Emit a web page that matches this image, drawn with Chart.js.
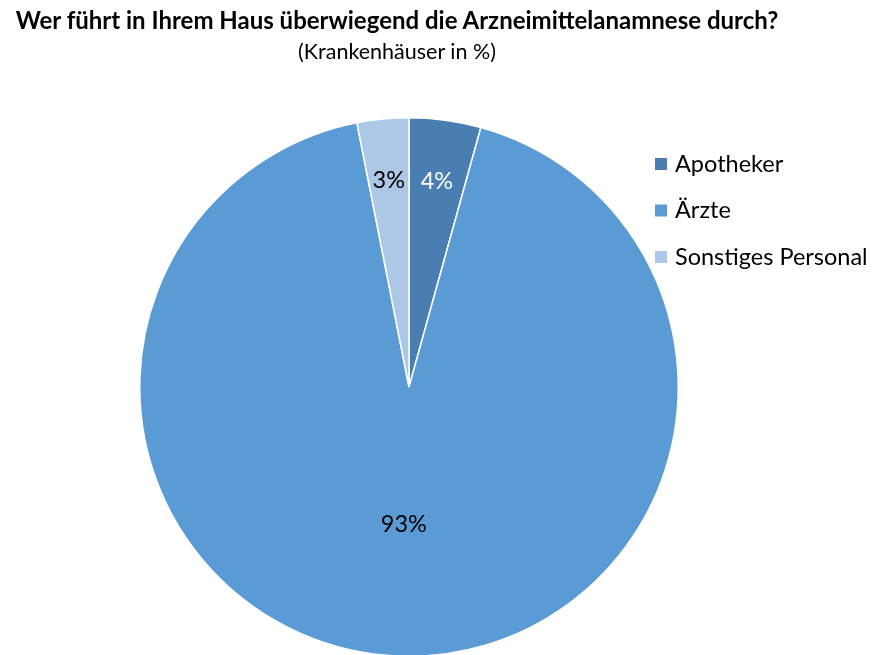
<!DOCTYPE html>
<html>
<head>
<meta charset="utf-8">
<script src="https://cdn.jsdelivr.net/npm/chart.js@4/dist/chart.umd.min.js"></script>
<style>
    html, body { margin: 0; padding: 0; background: #fff; overflow: hidden; }
    #wrap { position: relative; width: 872px; height: 655px; overflow: hidden; }
    #chart { position: absolute; left: 0; top: 0; }
    .title { position: absolute; left: 0; width: 794px; text-align: center; font-family: Lato, sans-serif; color: #000; white-space: nowrap; line-height: 1; }
    #t1 { top: 8px; font-size: 24px; font-weight: bold; }
    #t2 { top: 41px; font-size: 21.5px; }
</style>
</head>
<body>
<div id="wrap">
    <canvas id="chart" width="872" height="700"></canvas>
    <div class="title" id="t1">Wer führt in Ihrem Haus überwiegend die Arzneimittelanamnese durch?</div>
    <div class="title" id="t2">(Krankenhäuser in %)</div>
</div>
<script>
// Wer führt die Arzneimittelanamnese durch? (Krankenhäuser in %)
const categories = ['Apotheker', 'Ärzte', 'Sonstiges Personal'];
const shares = [4.3, 92.6, 3.1];
const sliceColors = ['#4a7db1', '#5b9bd5', '#adc7e7'];
const labelColors = ['#ffffff', '#000000', '#000000'];

const FONT = 'Lato, sans-serif';

// percent labels inside the slices (small slices sit further out, like Excel's best fit)
const sliceLabels = {
    id: 'sliceLabels',
    afterDatasetsDraw(chart) {
        const ctx = chart.ctx;
        const meta = chart.getDatasetMeta(0);
        ctx.save();
        ctx.font = '23.5px ' + FONT;
        ctx.textAlign = 'center';
        ctx.textBaseline = 'middle';
        meta.data.forEach((arc, i) => {
            const p = arc.getProps(['x', 'y', 'startAngle', 'endAngle', 'outerRadius']);
            const mid = (p.startAngle + p.endAngle) / 2;
            const f = shares[i] < 10 ? 0.77 : 0.51;
            const x = p.x + Math.cos(mid) * p.outerRadius * f;
            const y = p.y + Math.sin(mid) * p.outerRadius * f;
            ctx.fillStyle = labelColors[i];
            ctx.fillText(Math.round(shares[i]) + '%', x, y);
        });
        ctx.restore();
    }
};

// legend on the right, drawn from the chart's own labels and colours
const sideLegend = {
    id: 'sideLegend',
    afterDraw(chart) {
        const ctx = chart.ctx;
        const ds = chart.data.datasets[0];
        ctx.save();
        ctx.font = '23.5px ' + FONT;
        ctx.textBaseline = 'middle';
        chart.data.labels.forEach((label, i) => {
            const y = 164 + i * 46.5;
            ctx.fillStyle = ds.backgroundColor[i];
            ctx.fillRect(655, y - 6, 12, 12);
            ctx.fillStyle = '#000';
            ctx.fillText(label, 675, y);
        });
        ctx.restore();
    }
};

document.addEventListener('DOMContentLoaded', () => {
    const ctx = document.getElementById('chart');
    new Chart(ctx, {
        type: 'pie',
        data: {
            labels: categories,
            datasets: [{
                data: shares,
                backgroundColor: sliceColors,
                borderColor: '#ffffff',
                borderWidth: 1.5
            }]
        },
        options: {
            responsive: false,
            animation: false,
            layout: {
                padding: { left: 139, right: 193, top: 117, bottom: 43 }
            },
            plugins: {
                legend: { display: false },
                title: { display: false },
                tooltip: { enabled: false }
            }
        },
        plugins: [sliceLabels, sideLegend]
    });
});
</script>
</body>
</html>
